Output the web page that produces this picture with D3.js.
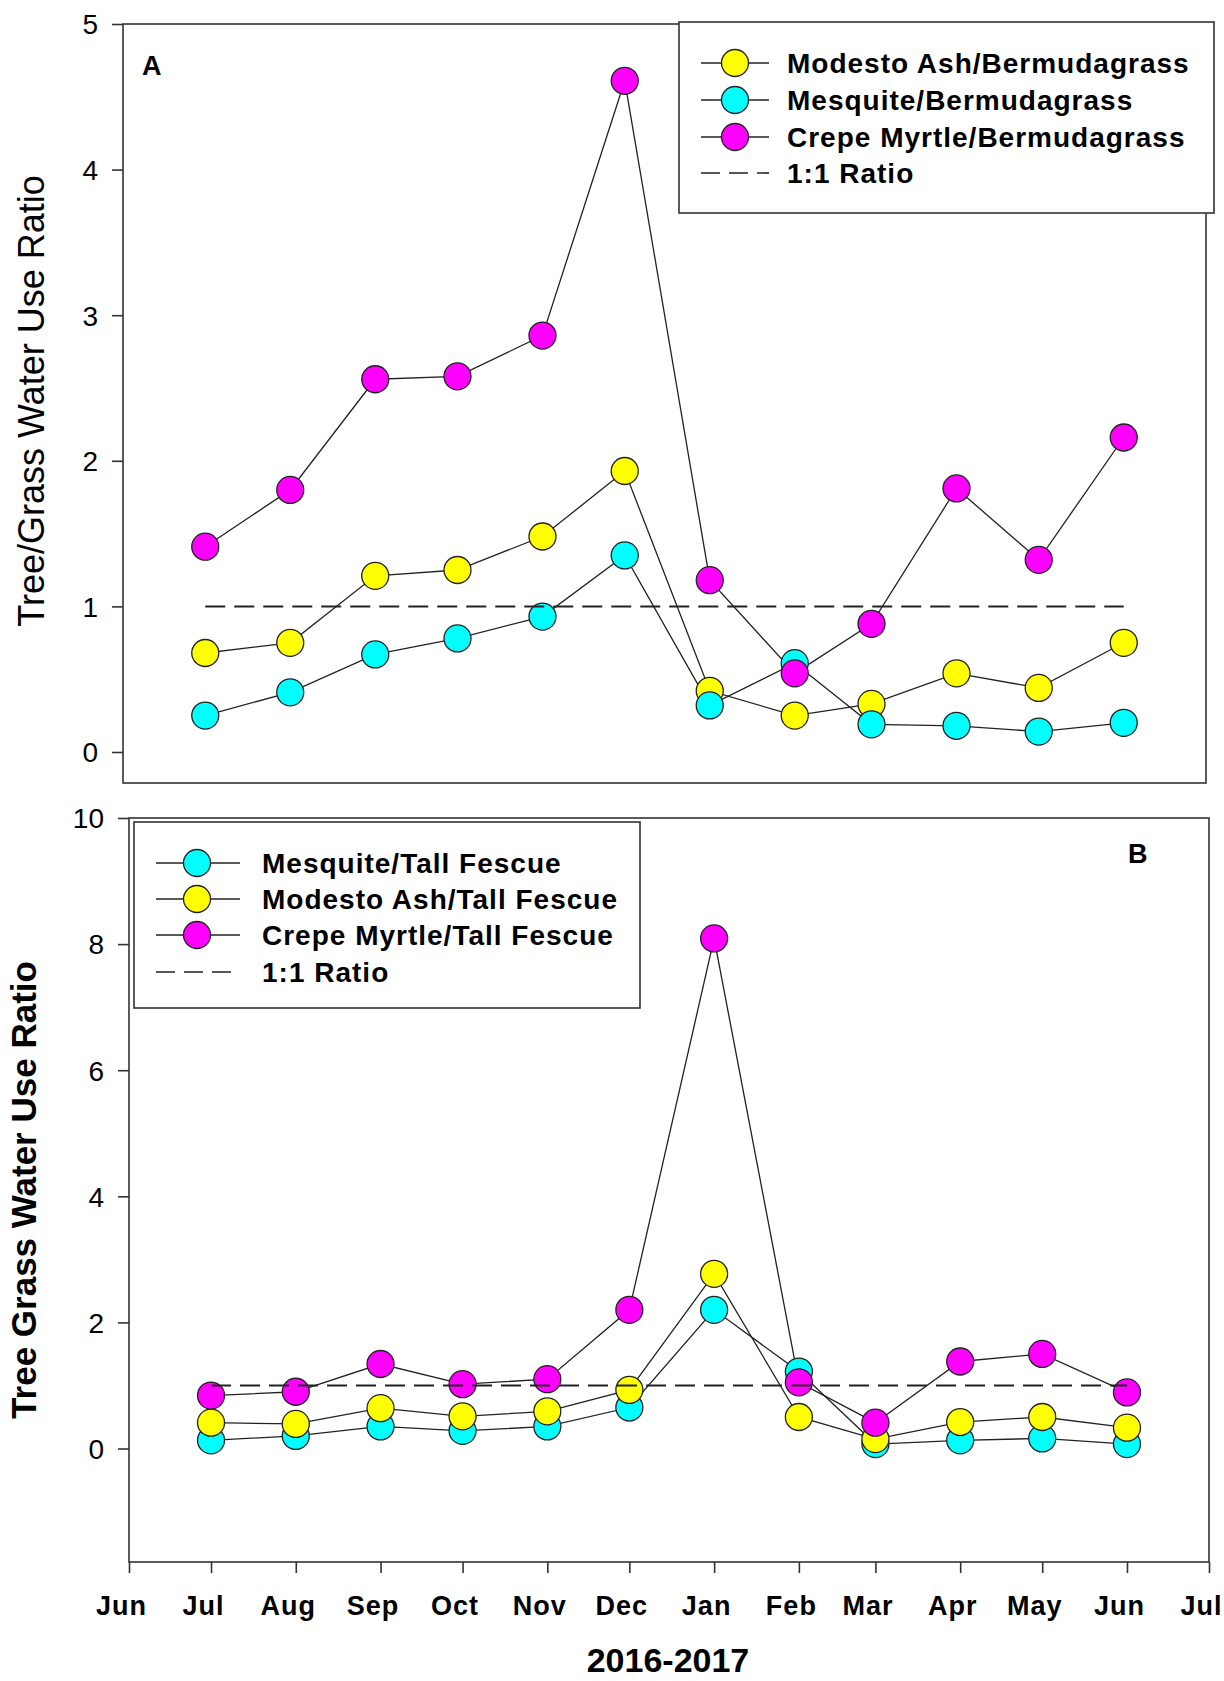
<!DOCTYPE html>
<html>
<head>
<meta charset="utf-8">
<script src="https://cdn.jsdelivr.net/npm/d3@7/dist/d3.min.js"></script>
<style>
  html, body { margin: 0; padding: 0; background: #fff; }
  svg { display: block; }
  text { font-family: Arial, "Liberation Sans", sans-serif; fill: #000; }
</style>
</head>
<body>
<script>
// ---------------- DATA ----------------
const months = ["2016-07-01","2016-08-01","2016-09-01","2016-10-01","2016-11-01","2016-12-01",
                "2017-01-01","2017-02-01","2017-03-01","2017-04-01","2017-05-01","2017-06-01"];
const tickMonths = ["2016-06-01","2016-07-01","2016-08-01","2016-09-01","2016-10-01","2016-11-01","2016-12-01",
                    "2017-01-01","2017-02-01","2017-03-01","2017-04-01","2017-05-01","2017-06-01","2017-07-01"];
const tickLabels = ["Jun","Jul","Aug","Sep","Oct","Nov","Dec","Jan","Feb","Mar","Apr","May","Jun","Jul"];

// Panel A (Bermudagrass)
const modestoBermuda  = [0.68, 0.75, 1.21, 1.25, 1.48, 1.93, 0.42, 0.25, 0.33, 0.54, 0.44, 0.75];
const mesquiteBermuda = [0.25, 0.41, 0.67, 0.78, 0.93, 1.35, 0.32, 0.61, 0.19, 0.18, 0.14, 0.20];
const crepeBermuda    = [1.41, 1.80, 2.56, 2.58, 2.86, 4.61, 1.18, 0.54, 0.88, 1.81, 1.32, 2.16];
// Panel B (Tall Fescue)
const mesquiteFescue  = [0.13, 0.20, 0.35, 0.28, 0.35, 0.65, 2.20, 1.22, 0.07, 0.13, 0.16, 0.07];
const modestoFescue   = [0.41, 0.39, 0.64, 0.51, 0.59, 0.93, 2.77, 0.50, 0.15, 0.42, 0.50, 0.33];
const crepeFescue     = [0.84, 0.90, 1.34, 1.02, 1.10, 2.20, 8.09, 1.05, 0.41, 1.38, 1.50, 0.89];

const ticksA = [0, 1, 2, 3, 4, 5];
const ticksB = [0, 2, 4, 6, 8, 10];
const ratioLine = 1;

const seriesA = [
  {name: "Modesto Ash/Bermudagrass", values: modestoBermuda, color: "#FFFF00"},
  {name: "Mesquite/Bermudagrass", values: mesquiteBermuda, color: "#00FFFF"},
  {name: "Crepe Myrtle/Bermudagrass", values: crepeBermuda, color: "#FF00FF"}
];
const seriesB = [
  {name: "Mesquite/Tall Fescue", values: mesquiteFescue, color: "#00FFFF"},
  {name: "Modesto Ash/Tall Fescue", values: modestoFescue, color: "#FFFF00"},
  {name: "Crepe Myrtle/Tall Fescue", values: crepeFescue, color: "#FF00FF"}
];

// ---------------- DRAW ----------------
const W = 1224, H = 1681;
const svg = d3.select("body").append("svg").attr("width", W).attr("height", H);
const parse = d3.utcParse("%Y-%m-%d");
const dates = months.map(parse);
const tickDates = tickMonths.map(parse);
const R = 13.5;
const frameColor = "#333";

function panel(cfg) {
  const x = d3.scaleUtc().domain([tickDates[0], tickDates[tickDates.length - 1]]).range([cfg.left, cfg.right]);
  const y = d3.scaleLinear().domain(cfg.yDomain).range([cfg.bottom, cfg.top]);
  const g = svg.append("g");

  // frame
  g.append("rect").attr("x", cfg.left).attr("y", cfg.top)
    .attr("width", cfg.right - cfg.left).attr("height", cfg.bottom - cfg.top)
    .attr("fill", "none").attr("stroke", frameColor).attr("stroke-width", 1.6);

  // y axis
  const yAxis = d3.axisLeft(y).tickValues(cfg.yTicks).tickSize(11).tickPadding(14).tickFormat(d3.format("d"));
  const ya = g.append("g").attr("transform", `translate(${cfg.left},0)`).call(yAxis);
  ya.select(".domain").remove();
  ya.selectAll(".tick line").attr("stroke", frameColor).attr("stroke-width", 1.6);
  ya.selectAll(".tick text").attr("font-size", 28).attr("font-family", "Arial, 'Liberation Sans', sans-serif")
    .attr("fill", "#000").attr("dy", "0.35em");

  // x axis (only on B)
  if (cfg.xAxis) {
    const xAxis = d3.axisBottom(x).tickValues(tickDates).tickSize(11).tickPadding(23)
      .tickFormat((d, i) => tickLabels[i]);
    const xa = g.append("g").attr("transform", `translate(0,${cfg.bottom})`).call(xAxis);
    xa.select(".domain").remove();
    xa.selectAll(".tick line").attr("stroke", frameColor).attr("stroke-width", 1.6);
    xa.selectAll(".tick text").attr("font-size", 27).attr("font-weight", "bold")
      .attr("letter-spacing", "1px")
      .attr("font-family", "Arial, 'Liberation Sans', sans-serif").attr("fill", "#000")
      .attr("dx", -8).attr("dy", "0.71em");
  }

  // series lines and markers
  const line = d3.line().x((d, i) => x(dates[i])).y(d => y(d));
  cfg.series.forEach(s => {
    g.append("path").datum(s.values).attr("d", line)
      .attr("fill", "none").attr("stroke", "#222").attr("stroke-width", 1.3);
  });
  cfg.series.forEach(s => {
    g.selectAll(null).data(s.values).enter().append("circle")
      .attr("cx", (d, i) => x(dates[i])).attr("cy", d => y(d)).attr("r", R)
      .attr("fill", s.color).attr("stroke", "#222").attr("stroke-width", 1.3);
  });

  // 1:1 ratio line
  g.append("line").attr("x1", x(dates[0])).attr("x2", x(dates[dates.length - 1]))
    .attr("y1", y(ratioLine)).attr("y2", y(ratioLine))
    .attr("stroke", "#222").attr("stroke-width", 2).attr("stroke-dasharray", "20,9");

  // panel letter
  g.append("text").attr("x", cfg.letterX).attr("y", cfg.letterY).text(cfg.letter)
    .attr("font-family", "'Liberation Serif', 'Times New Roman', serif").attr("font-weight", "bold")
    .attr("font-size", 27);

  // y-axis title
  g.append("text").attr("transform", `translate(${cfg.titleX},${cfg.titleY}) rotate(-90)`)
    .attr("text-anchor", "middle").text(cfg.yTitle)
    .attr("font-size", cfg.titleSize).attr("font-weight", cfg.titleWeight);

  // legend
  const L = cfg.legend;
  const lg = svg.append("g");
  lg.append("rect").attr("x", L.x0).attr("y", L.y0).attr("width", L.x1 - L.x0).attr("height", L.y1 - L.y0)
    .attr("fill", "#fff").attr("stroke", frameColor).attr("stroke-width", 1.6);
  const entries = cfg.series.map(s => ({name: s.name, color: s.color})).concat([{name: "1:1 Ratio", dashed: true}]);
  entries.forEach((e, i) => {
    const cy = L.rowY[i];
    if (e.dashed) {
      lg.append("line").attr("x1", L.lineX0).attr("x2", L.lineX1).attr("y1", cy).attr("y2", cy)
        .attr("stroke", "#222").attr("stroke-width", 1.6).attr("stroke-dasharray", "19,9");
    } else {
      lg.append("line").attr("x1", L.lineX0).attr("x2", L.lineX1).attr("y1", cy).attr("y2", cy)
        .attr("stroke", "#222").attr("stroke-width", 1.6);
      lg.append("circle").attr("cx", L.markX).attr("cy", cy).attr("r", R)
        .attr("fill", e.color).attr("stroke", "#222").attr("stroke-width", 1.3);
    }
    lg.append("text").attr("x", L.textX).attr("y", cy).attr("dy", "0.36em").text(e.name)
      .attr("font-size", 28).attr("font-weight", "bold").attr("letter-spacing", "1px");
  });
  return {x, y};
}

panel({
  left: 123, right: 1206, top: 24, bottom: 783,
  yDomain: [-0.213, 5], yTicks: ticksA, xAxis: false,
  series: seriesA, letter: "A", letterX: 142, letterY: 75,
  yTitle: "Tree/Grass Water Use Ratio", titleX: 44, titleY: 401, titleSize: 36, titleWeight: "normal",
  legend: {x0: 679, x1: 1214, y0: 22, y1: 213, rowY: [63, 100, 137, 173],
           lineX0: 701, lineX1: 769, markX: 735, textX: 787}
});

panel({
  left: 129, right: 1209, top: 818, bottom: 1562,
  yDomain: [-1.8, 10], yTicks: ticksB, xAxis: true,
  series: seriesB, letter: "B", letterX: 1128, letterY: 863,
  yTitle: "Tree Grass Water Use Ratio", titleX: 36, titleY: 1190, titleSize: 35, titleWeight: "bold",
  legend: {x0: 134, x1: 640, y0: 822, y1: 1008, rowY: [863, 899, 935, 972],
           lineX0: 156, lineX1: 240, markX: 197, textX: 262}
});

// shared x-axis title
svg.append("text").attr("x", 668).attr("y", 1672).attr("text-anchor", "middle")
  .attr("font-size", 34).attr("font-weight", "bold").text("2016-2017");
</script>
</body>
</html>
